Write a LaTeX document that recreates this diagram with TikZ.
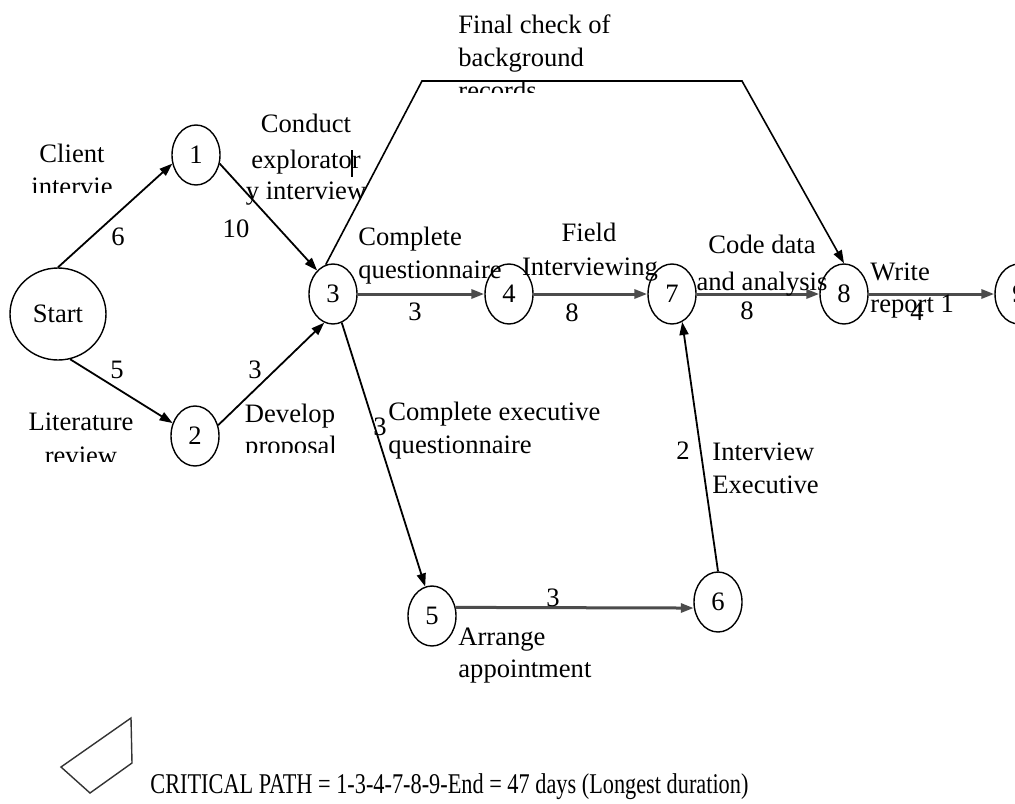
\documentclass[tikz,border=0pt]{standalone}
\usepackage{fontspec}
\setmainfont{Liberation Serif}
\usetikzlibrary{shapes.geometric,arrows.meta}
\newcommand{\lblfont}{\fontsize{13.3}{16}\selectfont}
\begin{document}
\begin{tikzpicture}[x=0.5pt,y=-0.5pt,
  ev/.style={ellipse,draw,line width=0.7pt,minimum width=24pt,minimum height=30pt,inner sep=0pt,font=\lblfont},
  lab/.style={inner sep=0pt,font=\lblfont},
  arr/.style={-{Triangle[length=6.5pt,width=4.5pt]},line width=0.9pt},
  harr/.style={-{Triangle[length=6.5pt,width=4.5pt]},line width=1.5pt,draw=black!70}]
\clip (0,0) rectangle (1015,803);
\fill[white] (0,0) rectangle (1015,803);
% nodes
\node[ev,minimum width=48pt,minimum height=46pt] (start) at (58,314) {Start};
\node[ev] (n1) at (196,155) {1};
\node[ev] (n2) at (195,436) {2};
\node[ev] (n3) at (333,294) {3};
\node[ev] (n4) at (509,294) {4};
\node[ev] (n7) at (672,294) {7};
\node[ev] (n8) at (844,294) {8};
\node[ev] (n9) at (1019,294) {9};
\node[ev] (n5) at (432,616) {5};
\node[ev] (n6) at (718,602) {6};
% connectors
\draw[arr] (start.north) -- (n1.200);
\draw[arr] (n1.-20) -- (n3.124);
\draw[arr] (start.-75) -- (n2.150);
\draw[arr] (n2.25) -- (n3.-107);
\draw[harr] (n3) -- (n4);
\draw[harr] (n4) -- (n7);
\draw[harr] (n7) -- (n8);
\draw[harr] (n8) -- (n9);
\draw[arr] (n3.-73) -- (n5.103);
\draw[harr] (n5.20) -- (n6.194);
\draw[arr] (n6.north) -- (n7.-70);
\coordinate (k1) at (422,81);
\coordinate (k2) at (742,81);
\draw[arr,line width=0.8pt] (n3.104) -- (k1) -- (k2) -- (n8.north);
% labels
\node[lab,anchor=base] (l1a) at (72,162) {Client};
\begin{scope}\clip (0,0) rectangle (200,192);
\node[lab,anchor=base] (l1b) at (72,195) {intervie};
\end{scope}
\node[lab] (d1) at (118,237) {6};
\node[lab] (d2) at (236,229) {10};
\node[lab,anchor=base] (l2a) at (306,132) {Conduct};
\node[lab,anchor=base] (l2b) at (306,168) {explorator};
\node[lab,anchor=base] (l2c) at (306,199) {y interview};
\draw[line width=0.7pt] (352,150) -- (352,177);
\node[lab,anchor=base west] (l3a) at (458,33) {Final check of};
\node[lab,anchor=base west] (l3b) at (458,66) {background};
\begin{scope}\clip (400,0) rectangle (700,92);
\node[lab,anchor=base west] (l3c) at (458,99) {records};
\end{scope}
\node[lab,anchor=base west] (l4a) at (358,245) {Complete};
\node[lab,anchor=base west] (l4b) at (358,278) {questionnaire};
\node[lab] (d3) at (415,312) {3};
\node[lab,anchor=base] (l5a) at (589,241) {Field};
\node[lab,anchor=base] (l5b) at (590,275) {Interviewing};
\node[lab] (d4) at (572,313) {8};
\node[lab,anchor=base] (l6a) at (762,253) {Code data};
\node[lab,anchor=base] (l6b) at (762,290) {and analysis};
\node[lab] (d5) at (747,311) {8};
\node[lab,anchor=base west] (l7a) at (870,280) {Write};
\node[lab,anchor=base west] (l7b) at (870,312) {report 1};
\node[lab] (d6) at (917,312) {4};
\node[lab] (d7) at (117,370) {5};
\node[lab,anchor=base] (l8a) at (81,430) {Literature};
\begin{scope}\clip (0,0) rectangle (200,461);
\node[lab,anchor=base] (l8b) at (81,464) {review};
\end{scope}
\node[lab] (d8) at (255,370) {3};
\node[lab,anchor=base] (l9a) at (290,422) {Develop};
\begin{scope}\clip (200,0) rectangle (380,452);
\node[lab,anchor=base] (l9b) at (291,454) {proposal};
\end{scope}
\node[lab] (d9) at (380,427) {3};
\node[lab,anchor=base west] (l10a) at (388,420) {Complete executive};
\node[lab,anchor=base west] (l10b) at (388,453) {questionnaire};
\node[lab] (d10) at (683,451) {2};
\node[lab,anchor=base west] (l11a) at (712,460) {Interview};
\node[lab,anchor=base west] (l11b) at (712,493) {Executive};
\node[lab] (d11) at (553,598) {3};
\node[lab,anchor=base west] (l12a) at (458,645) {Arrange};
\node[lab,anchor=base west] (l12b) at (458,677) {appointment};
% legend shape
\draw[line width=0.7pt,draw=black!80] (131,718) -- (61,767) -- (90,793) -- (132,763) -- cycle;
\node[inner sep=0pt,anchor=base west,font=\fontsize{14.3}{16}\selectfont] (crit) at (150,793)
  {\scalebox{0.78}[1]{CRITICAL PATH = 1-3-4-7-8-9-End = 47 days (Longest duration)}};
\end{tikzpicture}
\end{document}
